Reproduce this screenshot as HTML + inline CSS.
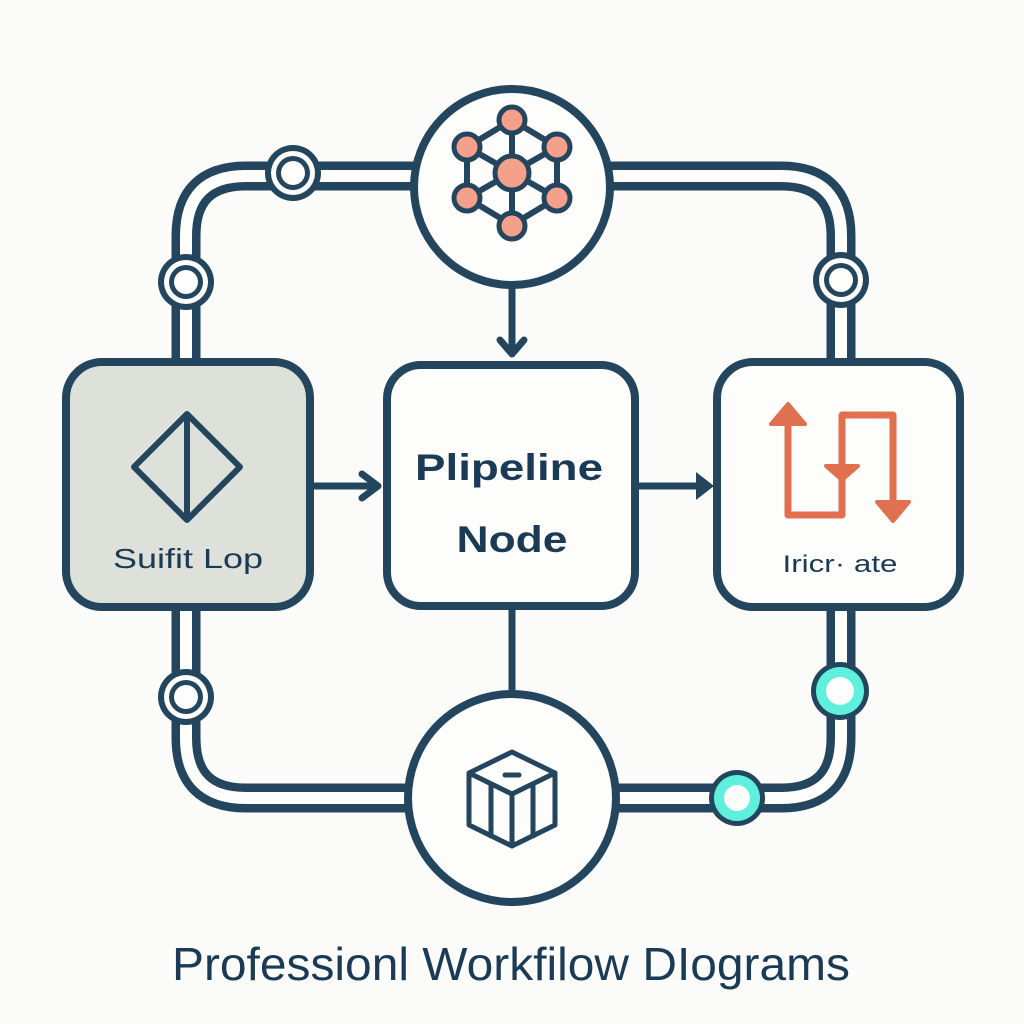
<!DOCTYPE html>
<html><head><meta charset="utf-8"><style>
html,body{margin:0;padding:0;background:#fbfbfa;}
svg{display:block;}
</style></head><body>
<svg width="1024" height="1024" viewBox="0 0 1024 1024" xmlns="http://www.w3.org/2000/svg">
<rect width="1024" height="1024" fill="#fbfbfa"/>
<g fill="none" stroke-linejoin="round">
<path d="M186 360 V236 Q186 176 246 176 H420 M604 176 H781 Q841 176 841 236 V360 M841 610 V738 Q841 798 781 798 H618 M406 798 H246 Q186 798 186 738 V610" stroke="#24455e" stroke-width="29"/>
<path d="M186 360 V236 Q186 176 246 176 H420 M604 176 H781 Q841 176 841 236 V360 M841 610 V738 Q841 798 781 798 H618 M406 798 H246 Q186 798 186 738 V610" stroke="#fdfdfc" stroke-width="12"/>
</g>
<g stroke="#24455e" stroke-width="7" fill="none" stroke-linecap="round" stroke-linejoin="round">
<line x1="313" y1="486" x2="376" y2="486"/>
<polyline points="362,474 378,486 362,498" />
<line x1="638" y1="486" x2="704" y2="486"/>
<line x1="512" y1="284" x2="512" y2="352"/>
<polyline points="500,340 512,354 524,340"/>
<line x1="512" y1="608" x2="512" y2="690"/>
</g>
<polygon points="696,472 714,486 696,500" fill="#24455e"/>
<rect x="66" y="362" width="244" height="245" rx="36" fill="#dde1da" stroke="#24455e" stroke-width="8"/>
<rect x="387" y="365" width="248" height="241" rx="34" fill="#fdfdfc" stroke="#24455e" stroke-width="8"/>
<rect x="717" y="362" width="243" height="245" rx="36" fill="#fdfdfc" stroke="#24455e" stroke-width="8"/>
<circle cx="512" cy="187" r="98" fill="#fdfdfc" stroke="#24455e" stroke-width="8"/>
<circle cx="512" cy="798" r="104" fill="#fdfdfc" stroke="#24455e" stroke-width="8"/>
<g>
<g transform="translate(293,173)"><circle r="28" fill="#24455e"/><circle r="22" fill="#fdfdfc"/><circle r="17" fill="#24455e"/><circle r="12" fill="#fdfdfc"/></g>
<g transform="translate(186,282)"><circle r="28" fill="#24455e"/><circle r="22" fill="#fdfdfc"/><circle r="17" fill="#24455e"/><circle r="12" fill="#fdfdfc"/></g>
<g transform="translate(841,280)"><circle r="28" fill="#24455e"/><circle r="22" fill="#fdfdfc"/><circle r="17" fill="#24455e"/><circle r="12" fill="#fdfdfc"/></g>
<g transform="translate(186,697)"><circle r="28" fill="#24455e"/><circle r="22" fill="#fdfdfc"/><circle r="17" fill="#24455e"/><circle r="12" fill="#fdfdfc"/></g>
<g transform="translate(840,691)"><circle r="29" fill="#24455e"/><circle r="24" fill="#5ef0dc"/><circle r="14" fill="#fdfdfc"/></g>
<g transform="translate(737,798)"><circle r="28" fill="#24455e"/><circle r="23" fill="#5ef0dc"/><circle r="13" fill="#fdfdfc"/></g>
</g>
<g stroke="#24455e" stroke-width="6" fill="none">
<polygon points="512,120 557,147 557,198 512,225 467,198 467,147"/>
<line x1="512" y1="120" x2="512" y2="225"/>
<line x1="467" y1="147" x2="557" y2="198"/>
<line x1="557" y1="147" x2="467" y2="198"/>
</g>
<g fill="#f4a08a" stroke="#24455e" stroke-width="5">
<circle cx="512" cy="120" r="13"/><circle cx="557" cy="147" r="13"/><circle cx="557" cy="198" r="13"/>
<circle cx="512" cy="226" r="13"/><circle cx="467" cy="198" r="13"/><circle cx="467" cy="147" r="13"/>
<circle cx="512" cy="173" r="17"/>
</g>
<g stroke="#24455e" stroke-width="6" fill="none" stroke-linejoin="round">
<polygon points="187,414 240,467 187,520 134,467"/>
<line x1="187" y1="414" x2="187" y2="520"/>
</g>
<g stroke="#e0704f" stroke-width="7" fill="none" stroke-linejoin="round">
<polyline points="788,420 788,515 842,515 842,415 893,415 893,502"/>
</g>
<g fill="#e0704f" stroke="#e0704f" stroke-width="4" stroke-linejoin="round">
<polygon points="788,404 805,424 771,424"/>
<polygon points="842,480 858,466 826,466"/>
<polygon points="893,521 909,502 877,502"/>
</g>
<g stroke="#24455e" stroke-width="5" fill="none" stroke-linejoin="round" stroke-linecap="round">
<polygon points="512,752 555,773 555,825 512,846 469,825 469,773"/>
<polyline points="469,773 512,794 555,773"/>
<line x1="512" y1="794" x2="512" y2="846"/>
<line x1="491" y1="784" x2="491" y2="836"/>
<line x1="533" y1="784" x2="533" y2="836"/>
<line x1="505" y1="775" x2="519" y2="775"/>
</g>
<g fill="#1b3a55" font-family="Liberation Sans, sans-serif">
<text x="509" y="480" font-size="37" font-weight="bold" text-anchor="middle" textLength="188" lengthAdjust="spacingAndGlyphs">Plipeline</text>
<text x="512" y="552" font-size="37" font-weight="bold" text-anchor="middle" textLength="111" lengthAdjust="spacingAndGlyphs">Node</text>
<text x="188" y="568" font-size="28" text-anchor="middle" textLength="150" lengthAdjust="spacingAndGlyphs">Suifit Lop</text>
<text x="840" y="572" font-size="24" text-anchor="middle" textLength="115" lengthAdjust="spacingAndGlyphs">Iricr· ate</text>
<text x="511" y="980" font-size="46" text-anchor="middle" textLength="678" lengthAdjust="spacingAndGlyphs">Professionl Workfilow DIograms</text>
</g>
</svg>
</body></html>
